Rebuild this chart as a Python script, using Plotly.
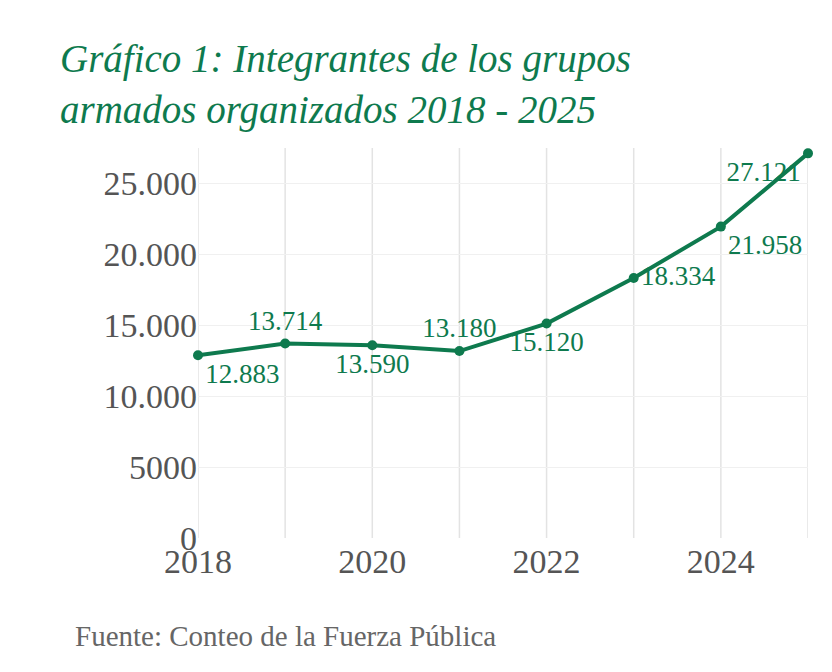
import plotly.graph_objects as go

years = [2018, 2019, 2020, 2021, 2022, 2023, 2024, 2025]
values = [12883, 13714, 13590, 13180, 15120, 18334, 21958, 27121]
labels = ["12.883", "13.714", "13.590", "13.180", "15.120", "18.334", "21.958", "27.121"]
positions = ["bottom right", "top center", "bottom center", "top center",
             "bottom center", "middle right", "bottom right", "bottom left"]
yticks = [0, 5000, 10000, 15000, 20000, 25000]
yticklabels = ["0", "5000", "10.000", "15.000", "20.000", "25.000"]
xticks = [2018, 2020, 2022, 2024]

green = "#0e7a4e"
fig = go.Figure()
fig.add_trace(go.Scatter(
    x=years, y=values, mode="lines+markers+text",
    line=dict(color=green, width=4), marker=dict(color=green, size=10),
    text=labels, textposition=positions,
    textfont=dict(family="Liberation Serif", size=27, color=green),
    cliponaxis=False, showlegend=False))

fig.update_layout(
    width=832, height=672, paper_bgcolor="white", plot_bgcolor="white",
    margin=dict(l=190, r=32, t=140, b=142),
    xaxis=dict(range=[2018, 2025], tickvals=xticks, ticktext=[str(t) for t in xticks],
               showgrid=False, zeroline=False,
               tickfont=dict(family="Liberation Serif", size=34, color="#555"),
               showline=False, ticks=""),
    yaxis=dict(range=[0, 27500], tickvals=yticks, ticktext=yticklabels,
               showgrid=True, gridcolor="#f0f0f0", zeroline=False,
               tickfont=dict(family="Liberation Serif", size=34, color="#555")),
)
for yr in years:
    fig.add_shape(type="line", x0=yr, x1=yr, y0=0, y1=1, yref="paper",
                  line=dict(color="#e3e3e3", width=1.5), layer="below")
fig.add_annotation(text="<i>Gráfico 1: Integrantes de los grupos<br>armados organizados 2018 - 2025</i>",
                   xref="paper", yref="paper", x=-0.23, y=1.29, xanchor="left", yanchor="top",
                   align="left", showarrow=False,
                   font=dict(family="Liberation Serif", size=39, color=green))
fig.add_annotation(text="Fuente: Conteo de la Fuerza Pública", xref="paper", yref="paper",
                   x=-0.205, y=-0.25, xanchor="left", yanchor="middle", showarrow=False,
                   font=dict(family="Liberation Serif", size=29, color="#666"))
fig.write_html("out.html")
